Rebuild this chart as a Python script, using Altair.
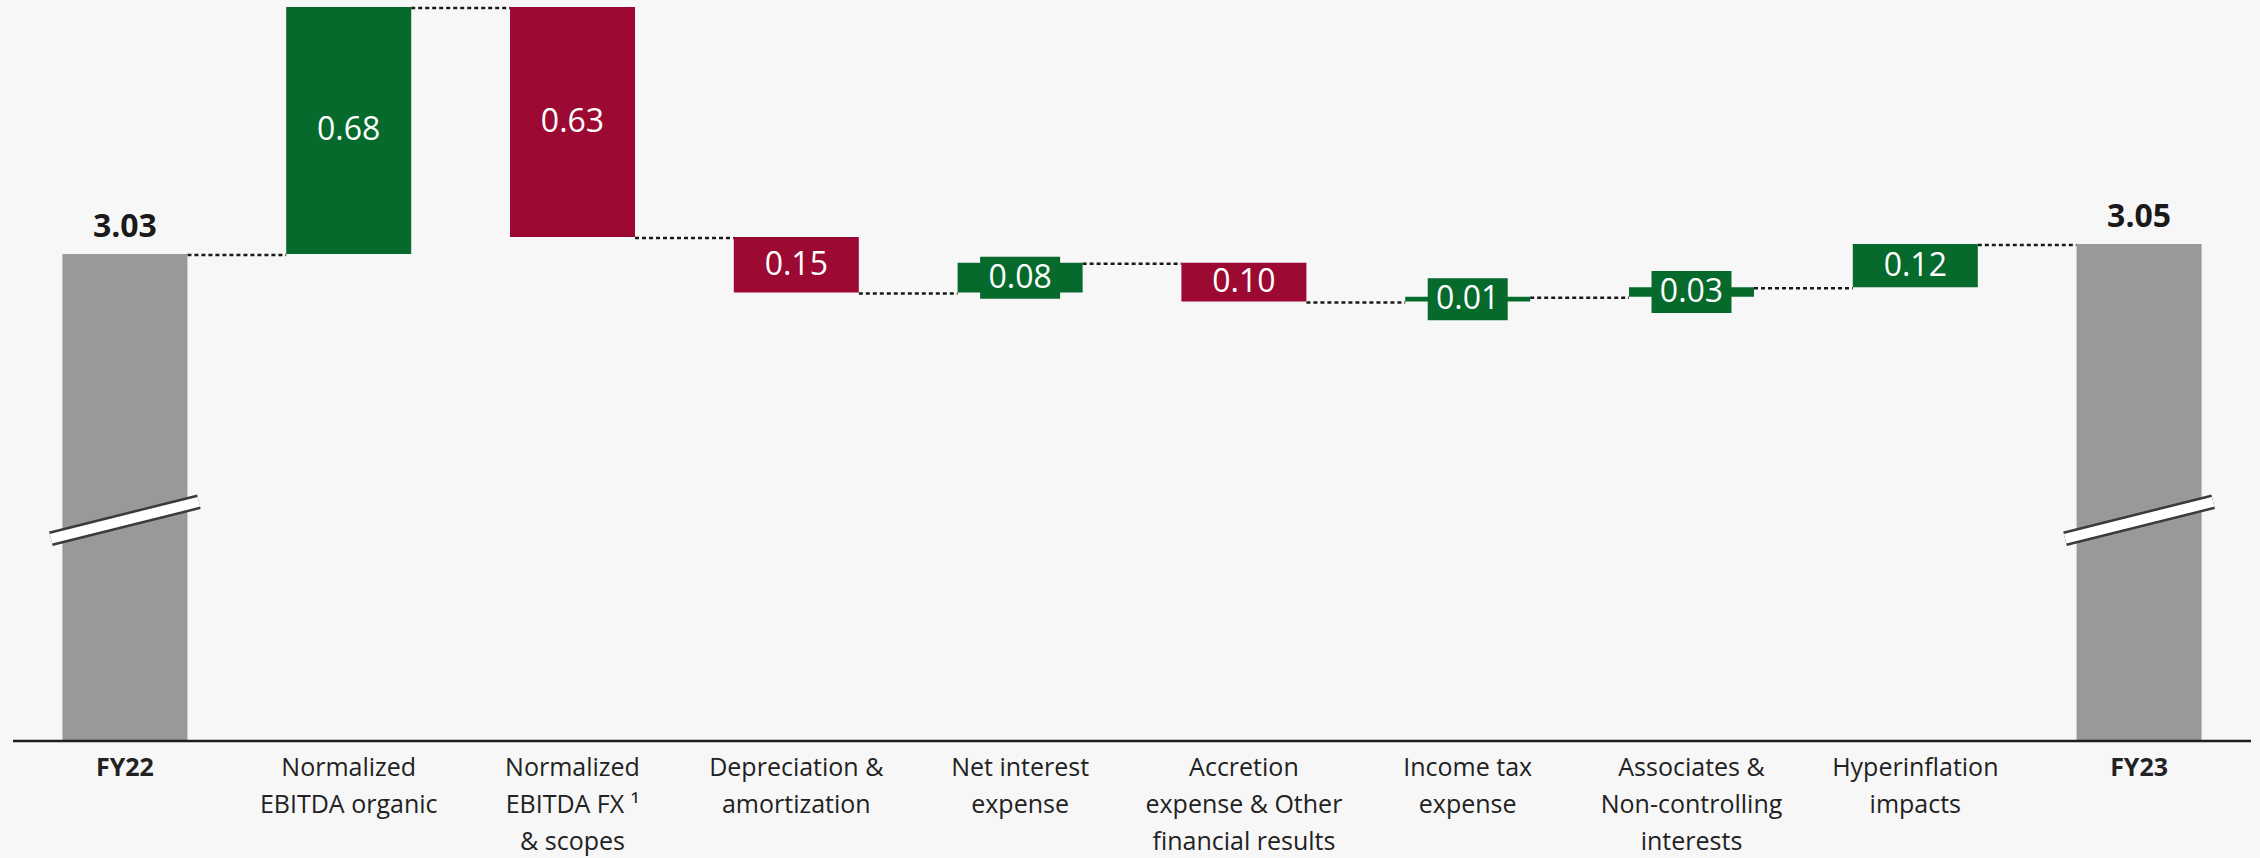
import altair as alt
import pandas as pd

# ---------------- data ----------------
categories = [
    "FY22",
    "Normalized\nEBITDA organic",
    "Normalized\nEBITDA FX \u00b9\n& scopes",
    "Depreciation &\namortization",
    "Net interest\nexpense",
    "Accretion\nexpense & Other\nfinancial results",
    "Income tax\nexpense",
    "Associates &\nNon-controlling\ninterests",
    "Hyperinflation\nimpacts",
    "FY23",
]
kinds = ["total", "up", "down", "down", "up", "down", "up", "up", "up", "total"]
# step sizes as drawn (totals: FY22 level; FY23 = running sum)
steps = [3.03, 0.677, -0.6305, -0.152, 0.081, -0.106, 0.013, 0.026, 0.119, None]
value_labels = ["3.03", "0.68", "0.63", "0.15", "0.08", "0.10", "0.01", "0.03", "0.12", "3.05"]

AXIS_FLOOR = 1.695     # value at the (broken) baseline
AXIS_TOP = 3.726
BREAK_LEVEL = 2.30     # where the axis-break marks sit on the total bars

# styles (in axis units)
HALF_BAR = 0.2793      # half bar width
BOX_HW = 0.1787        # half width of label box
BOX_HH = 0.0576        # half height of label box
BRK_HW = 0.3307        # half width of break mark
BRK_DY = 0.0507        # half rise of break mark
X_LO, X_HI = -0.5581, 9.5402          # full-width x range
Y_LO = AXIS_FLOOR - 0.3207            # room for category labels below baseline

GREEN = "#066a2c"
RED = "#9c0a33"
GREY = "#999999"
BG = "#f7f7f7"

# ---------------- derived tables ----------------
rows = []
running = 0.0
for i, (cat, kind, step, lab) in enumerate(zip(categories, kinds, steps, value_labels)):
    if kind == "total":
        end = step if step is not None else running
        start = AXIS_FLOOR
        running = end
    else:
        start = running
        end = running + step
        running = end
    parts = cat.split("\n") + ["", "", ""]
    rows.append(dict(idx=i, kind=kind, start=start, end=end,
                     mid=(start + end) / 2, label=lab, floor=AXIS_FLOOR,
                     l1=parts[0], l2=parts[1], l3=parts[2]))
df = pd.DataFrame(rows)

conn = pd.DataFrame(dict(idx=list(range(len(categories) - 1)),
                         level=[r["end"] for r in rows[:-1]]))

brk_rows = []
for r in rows:
    if r["kind"] == "total":
        brk_rows.append(dict(grp=r["idx"], bx=r["idx"] - BRK_HW, by=BREAK_LEVEL - BRK_DY))
        brk_rows.append(dict(grp=r["idx"], bx=r["idx"] + BRK_HW, by=BREAK_LEVEL + BRK_DY))
brk = pd.DataFrame(brk_rows)

base_line = pd.DataFrame(dict(x0=[-0.5], x1=[len(categories) - 0.5], y=[AXIS_FLOOR]))

x_scale = alt.Scale(domain=[X_LO, X_HI], nice=False, zero=False)
y_scale = alt.Scale(domain=[Y_LO, AXIS_TOP], nice=False, zero=False)
color_scale = alt.Scale(domain=["total", "up", "down"], range=[GREY, GREEN, RED])

base = alt.Chart(df)

bars = base.transform_calculate(
    x0=f"datum.idx - {HALF_BAR}", x1=f"datum.idx + {HALF_BAR}"
).mark_bar().encode(
    x=alt.X("x0:Q", scale=x_scale, axis=None),
    x2="x1:Q",
    y=alt.Y("start:Q", scale=y_scale, axis=None),
    y2="end:Q",
    color=alt.Color("kind:N", scale=color_scale, legend=None),
)

baseline = alt.Chart(base_line).mark_rule(color="#1e1e1e", strokeWidth=2.5).encode(
    x=alt.X("x0:Q", scale=x_scale, axis=None),
    x2="x1:Q",
    y=alt.Y("y:Q", scale=y_scale, axis=None),
)

connectors = alt.Chart(conn).transform_calculate(
    x0=f"datum.idx + {HALF_BAR}", x1=f"datum.idx + 1 - {HALF_BAR}"
).mark_rule(color="#1a1a1a", strokeWidth=2.5, strokeDash=[4, 3], yOffset=1).encode(
    x=alt.X("x0:Q", scale=x_scale, axis=None),
    x2="x1:Q",
    y=alt.Y("level:Q", scale=y_scale, axis=None),
)

deltas = base.transform_filter("datum.kind != 'total'")
ups = base.transform_filter("datum.kind == 'up'")
totals = base.transform_filter("datum.kind == 'total'")

boxes = ups.transform_calculate(
    bx0=f"datum.idx - {BOX_HW}", bx1=f"datum.idx + {BOX_HW}",
    by0=f"datum.mid - {BOX_HH}", by1=f"datum.mid + {BOX_HH}",
).mark_bar().encode(
    x=alt.X("bx0:Q", scale=x_scale, axis=None),
    x2="bx1:Q",
    y=alt.Y("by0:Q", scale=y_scale, axis=None),
    y2="by1:Q",
    color=alt.Color("kind:N", scale=color_scale, legend=None),
)

delta_text = deltas.mark_text(
    font="Open Sans", fontSize=32, color="white", baseline="middle", align="center"
).encode(
    x=alt.X("idx:Q", scale=x_scale, axis=None),
    y=alt.Y("mid:Q", scale=y_scale, axis=None),
    text="label:N",
)

total_text = totals.mark_text(
    font="Open Sans", fontSize=32, fontWeight="bold", color="#1a1a1a",
    baseline="alphabetic", align="center", dy=-17
).encode(
    x=alt.X("idx:Q", scale=x_scale, axis=None),
    y=alt.Y("end:Q", scale=y_scale, axis=None),
    text="label:N",
)

cat_layers = []
for src, weight in ((deltas, "normal"), (totals, "bold")):
    for k, field in enumerate(["l1", "l2", "l3"]):
        cat_layers.append(
            src.mark_text(font="Open Sans", fontSize=25, color="#222222",
                          baseline="top", align="center", fontWeight=weight,
                          dy=15 + 37 * k).encode(
                x=alt.X("idx:Q", scale=x_scale, axis=None),
                y=alt.Y("floor:Q", scale=y_scale, axis=None),
                text=f"{field}:N",
            )
        )

break_dark = alt.Chart(brk).mark_line(color="#3a3a3a", strokeWidth=15).encode(
    x=alt.X("bx:Q", scale=x_scale, axis=None),
    y=alt.Y("by:Q", scale=y_scale, axis=None),
    detail="grp:N",
)
break_white = alt.Chart(brk).mark_line(color="white", strokeWidth=10).encode(
    x=alt.X("bx:Q", scale=x_scale, axis=None),
    y=alt.Y("by:Q", scale=y_scale, axis=None),
    detail="grp:N",
)

chart = alt.layer(
    connectors, bars, baseline, boxes, delta_text, total_text, *cat_layers,
    break_dark, break_white
).properties(
    width=2260, height=858,
    padding=0,
    autosize=alt.AutoSizeParams(type="none"),
    background=BG,
).configure_view(strokeWidth=0)

chart.save("out.html", embed_options={"renderer": "svg", "actions": False})
